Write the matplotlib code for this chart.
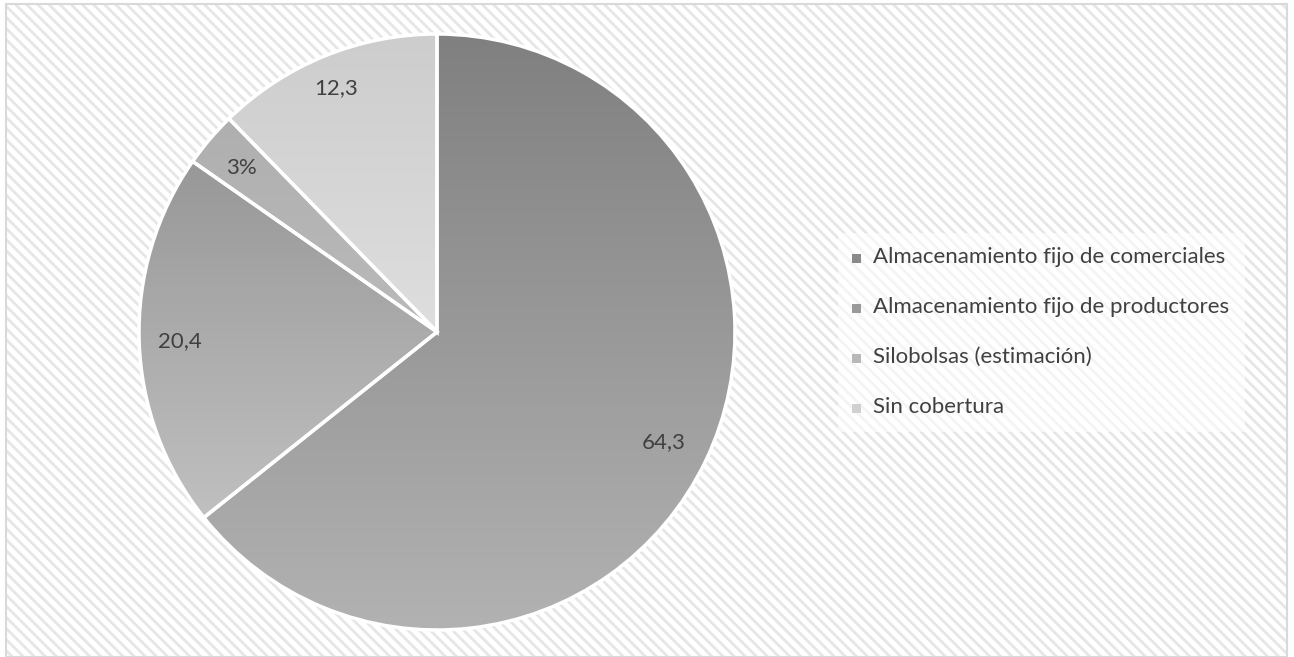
import numpy as np
import matplotlib.pyplot as plt
from matplotlib.patches import Rectangle, Wedge
from matplotlib.colors import LinearSegmentedColormap

plt.rcParams['font.family'] = ['Lato', 'DejaVu Sans']
plt.rcParams['hatch.linewidth'] = 2.0
plt.rcParams['hatch.color'] = '#e6e6e6'

categorias = ['Almacenamiento fijo de comerciales',
              'Almacenamiento fijo de productores',
              'Silobolsas (estimación)',
              'Sin cobertura']
valores = [64.3, 20.4, 3.0, 12.3]
etiquetas = ['64,3', '20,4', '3%', '12,3']
# gradient colours per slice: (top, bottom)
gradientes = [('#808080', '#b2b2b2'),
              ('#989898', '#c0c0c0'),
              ('#afafaf', '#bababa'),
              ('#cdcdcd', '#dedede')]
colores_leyenda = ['#8a8a8a', '#9a9a9a', '#b8b8b8', '#d0d0d0']

fig = plt.figure(figsize=(12.94, 6.57), dpi=100)
ax = fig.add_axes([0, 0, 1, 1])
ax.set_xlim(0, 1294)
ax.set_ylim(657, 0)
ax.set_aspect('equal')
ax.axis('off')

# striped background with a thin frame
ax.add_patch(Rectangle((6, 4), 1281, 653, facecolor='white', edgecolor='#e6e6e6',
                       hatch='\\\\\\', linewidth=0, zorder=0))
ax.add_patch(Rectangle((6, 4), 1281, 653, facecolor='none', edgecolor='#d9d9d9',
                       linewidth=1.5, zorder=1))

cx, cy, r = 437, 332, 298
total = sum(valores)
ang = 90.0
for i, v in enumerate(valores):
    theta2 = ang
    theta1 = ang - v / total * 360.0
    # y axis is inverted, so mirror the angles
    w = Wedge((cx, cy), r, -theta2, -theta1, facecolor='none',
              edgecolor='white', linewidth=2.5, zorder=3)
    ax.add_patch(w)
    # bounding box of the wedge for the vertical gradient
    t = np.linspace(np.radians(theta1), np.radians(theta2), 200)
    xs = np.concatenate([[cx], cx + r * np.cos(t)])
    ys = np.concatenate([[cy], cy - r * np.sin(t)])
    cmap = LinearSegmentedColormap.from_list('g%d' % i, gradientes[i])
    grad = np.linspace(0, 1, 256).reshape(-1, 1)
    im = ax.imshow(grad, cmap=cmap, aspect='auto', zorder=2,
                   extent=(xs.min(), xs.max(), ys.max(), ys.min()),
                   interpolation='bilinear')
    im.set_clip_path(w)
    ang = theta1

ax.set_xlim(0, 1294)
ax.set_ylim(657, 0)

# data labels
pos_etiquetas = [(664, 442), (180, 341), (241, 168), (336, 88)]
for (x, y), t in zip(pos_etiquetas, etiquetas):
    ax.text(x, y, t, ha='center', va='center', fontsize=16, color='#404040', zorder=5)

# legend box
ax.add_patch(Rectangle((838, 233), 407, 199, facecolor='white', alpha=0.6,
                       edgecolor='none', zorder=4))
for i, c in enumerate(categorias):
    y = 257 + 50 * i
    ax.add_patch(Rectangle((852, y - 3), 9, 9, facecolor=colores_leyenda[i],
                           edgecolor='none', zorder=5))
    ax.text(873, y, c, ha='left', va='center', fontsize=16, color='#404040', zorder=5)

fig.savefig('out.png', dpi=100)
